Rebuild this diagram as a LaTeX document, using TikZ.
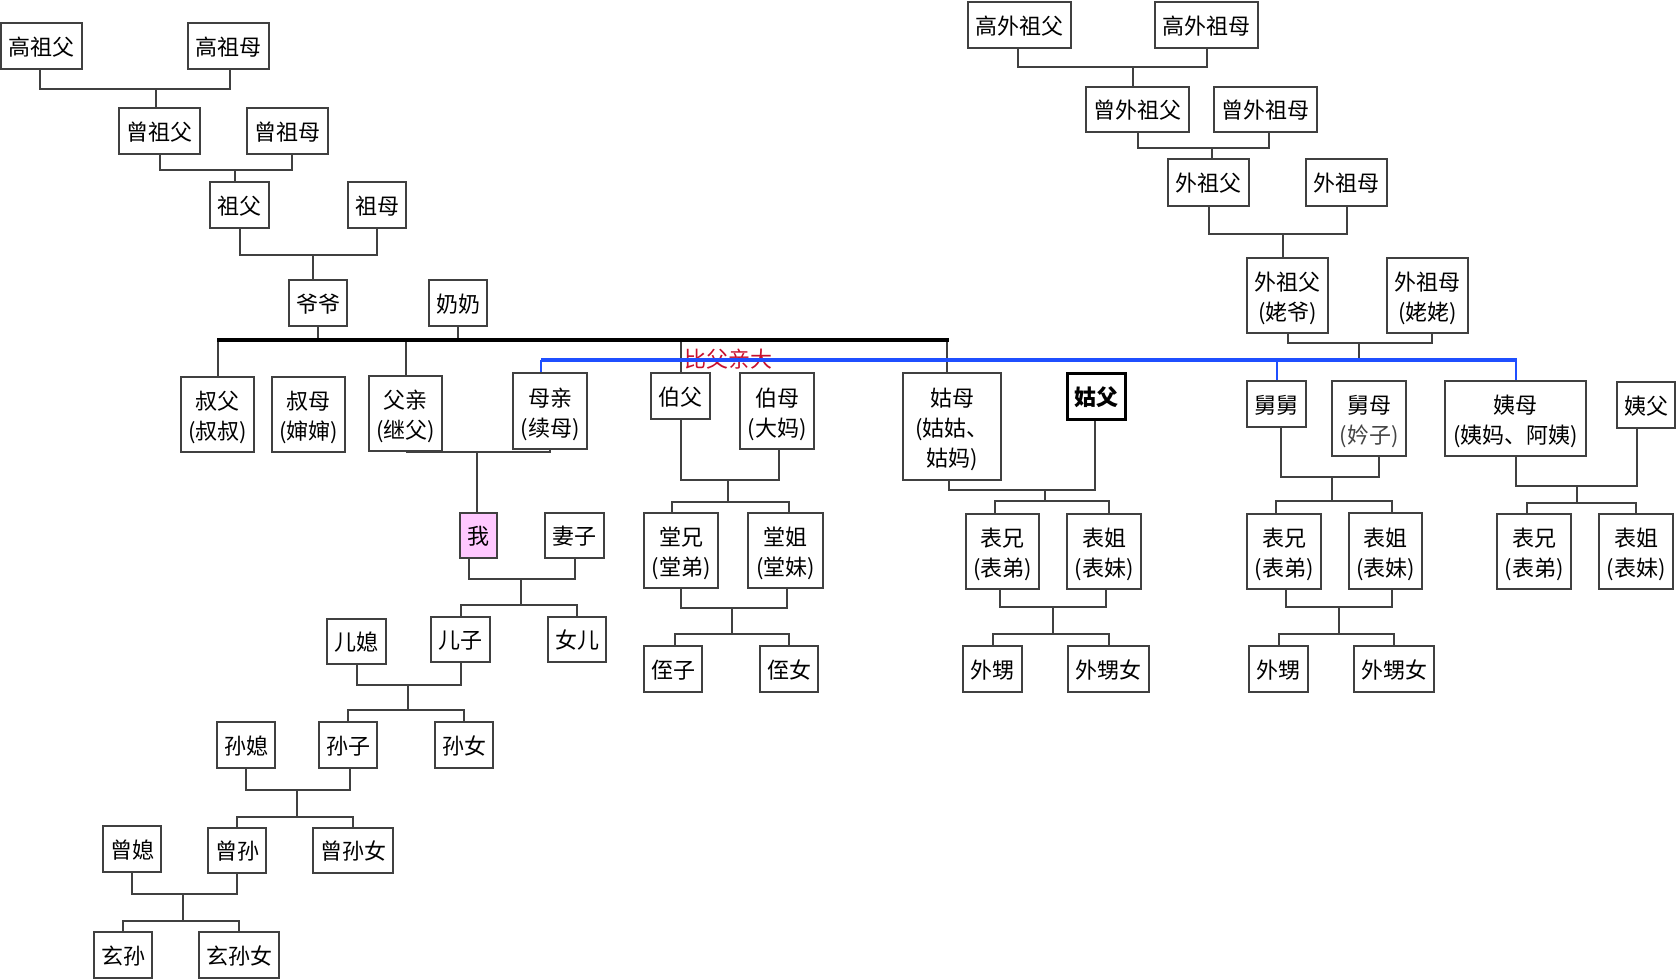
\documentclass[tikz,border=0pt]{standalone}
\usepackage{fontspec}
\newfontfamily\cjk{Noto Sans CJK SC}
\usetikzlibrary{calc}
\definecolor{linec}{HTML}{404040}
\definecolor{bluec}{HTML}{1F4FFF}
\definecolor{redc}{HTML}{C8102E}
\definecolor{pinkc}{HTML}{FFC8FF}
\definecolor{softc}{HTML}{444444}
\newcommand\ds[1]{\raisebox{-1pt}[\height][\depth]{#1}}
\newcommand\dl[1]{\raisebox{-3pt}[\height][\depth]{#1}}
\begin{document}
\begin{tikzpicture}[x=1pt,y=-1pt,
  box/.style={draw=linec, line width=2pt, inner sep=0pt, align=center,
    font=\cjk\fontsize{22}{30}\selectfont, text=black},
  boldbox/.style={box, draw=black, line width=3pt, font=\cjk\bfseries\fontsize{22}{30}\selectfont},
  mebox/.style={box, fill=pinkc},
  bx/.style 2 args={minimum width=#1pt, minimum height=#2pt},
  conn/.style={draw=linec, line width=2pt},
  bconn/.style={draw=bluec, line width=2pt},
  blackbar/.style={draw=black, line width=4pt},
  bluebar/.style={draw=bluec, line width=4pt},
  redlbl/.style={inner sep=0pt, text=redc, font=\cjk\fontsize{22}{26}\selectfont}
]
\useasboundingbox (0,0) rectangle (1676,979);

% ---- paternal ancestors
\node[box,bx={81}{46}] (gzf) at (41.5,46) {\ds{高祖父}};
\node[box,bx={81}{46}] (gzm) at (228.5,46) {\ds{高祖母}};
\node[box,bx={81}{46}] (zzf) at (159.5,131) {\ds{曾祖父}};
\node[box,bx={81}{46}] (zzm) at (287.5,131) {\ds{曾祖母}};
\node[box,bx={59}{46}] (zf) at (239.5,205) {\ds{祖父}};
\node[box,bx={58}{46}] (zm) at (377,205) {\ds{祖母}};
\node[box,bx={58}{46}] (yy) at (318,303) {\ds{爷爷}};
\node[box,bx={58}{46}] (nn) at (458,303) {\ds{奶奶}};

% ---- maternal ancestors
\node[box,bx={103}{46}] (gwzf) at (1019.5,25) {\ds{高外祖父}};
\node[box,bx={103}{46}] (gwzm) at (1206.5,25) {\ds{高外祖母}};
\node[box,bx={103}{45}] (zwzf) at (1137.5,109.5) {\ds{曾外祖父}};
\node[box,bx={103}{45}] (zwzm) at (1265.5,109.5) {\ds{曾外祖母}};
\node[box,bx={81}{47}] (wzf) at (1208.5,182.5) {\ds{外祖父}};
\node[box,bx={81}{47}] (wzm) at (1346.5,182.5) {\ds{外祖母}};
\node[box,bx={81}{75}] (lye) at (1287.5,295.5) {\dl{外祖父}\\\dl{(姥爷)}};
\node[box,bx={81}{75}] (lll) at (1427.5,295.5) {\dl{外祖母}\\\dl{(姥姥)}};

% ---- parents' generation
\node[box,bx={73}{75}] (sf) at (217.5,414.5) {\dl{叔父}\\\dl{(叔叔)}};
\node[box,bx={73}{75}] (sm) at (308.5,414.5) {\dl{叔母}\\\dl{(婶婶)}};
\node[box,bx={73}{75}] (fq) at (405.5,413.5) {\dl{父亲}\\\dl{(继父)}};
\node[box,bx={74}{76}] (mq) at (550,411) {\dl{母亲}\\\dl{(续母)}};
\node[box,bx={59}{46}] (bf) at (680.5,396) {\ds{伯父}};
\node[box,bx={74}{76}] (bm) at (777,411) {\dl{伯母}\\\dl{(大妈)}};
\node[box,bx={98}{107}] (gm) at (952,426.5) {\dl{姑母}\\\dl{(姑姑、}\\\dl{姑妈)}};
\node[boldbox,bx={58}{46}] (gf) at (1096,396) {\ds{姑父}};
\node[box,bx={59}{46}] (jj) at (1276.5,404) {\ds{舅舅}};
\node[box,bx={74}{75}] (jm) at (1369,418.5) {\dl{舅母}\\\dl{\color{softc}(妗子)}};
\node[box,bx={141}{75}] (ym) at (1515.5,418.5) {\dl{姨母}\\\dl{(姨妈、阿姨)}};
\node[box,bx={58}{46}] (yf) at (1646,405) {\ds{姨父}};

% ---- my line
\node[mebox,bx={37}{45}] (me) at (478.5,535.5) {\ds{我}};
\node[box,bx={59}{45}] (qz) at (574.5,535.5) {\ds{妻子}};
\node[box,bx={59}{45}] (ez) at (460.5,639.5) {\ds{儿子}};
\node[box,bx={58}{45}] (ne) at (577,639.5) {\ds{女儿}};
\node[box,bx={59}{45}] (ex) at (356.5,641.5) {\ds{儿媳}};
\node[box,bx={58}{46}] (sx) at (246,745) {\ds{孙媳}};
\node[box,bx={58}{46}] (sz) at (348,745) {\ds{孙子}};
\node[box,bx={58}{46}] (sn) at (464,745) {\ds{孙女}};
\node[box,bx={58}{46}] (zx) at (132,849) {\ds{曾媳}};
\node[box,bx={58}{45}] (zs) at (237,850.5) {\ds{曾孙}};
\node[box,bx={80}{45}] (zsn) at (353,850.5) {\ds{曾孙女}};
\node[box,bx={58}{46}] (xs) at (123,955) {\ds{玄孙}};
\node[box,bx={80}{46}] (xsn) at (239,955) {\ds{玄孙女}};

% ---- cousins
\node[box,bx={74}{75}] (tx) at (681,550.5) {\dl{堂兄}\\\dl{(堂弟)}};
\node[box,bx={75}{75}] (tj) at (785.5,550.5) {\dl{堂姐}\\\dl{(堂妹)}};
\node[box,bx={58}{46}] (zz) at (673,669) {\ds{侄子}};
\node[box,bx={58}{46}] (zn) at (789,669) {\ds{侄女}};
\node[box,bx={73}{75}] (bxa) at (1002.5,551.5) {\dl{表兄}\\\dl{(表弟)}};
\node[box,bx={74}{75}] (bja) at (1104,551.5) {\dl{表姐}\\\dl{(表妹)}};
\node[box,bx={59}{46}] (wsa) at (992.5,669) {\ds{外甥}};
\node[box,bx={81}{46}] (wsna) at (1108.5,669) {\ds{外甥女}};
\node[box,bx={74}{75}] (bxb) at (1284,551.5) {\dl{表兄}\\\dl{(表弟)}};
\node[box,bx={73}{76}] (bjb) at (1385.5,551) {\dl{表姐}\\\dl{(表妹)}};
\node[box,bx={59}{46}] (wsb) at (1278.5,669) {\ds{外甥}};
\node[box,bx={80}{46}] (wsnb) at (1394,669) {\ds{外甥女}};
\node[box,bx={74}{75}] (bxc) at (1534,551.5) {\dl{表兄}\\\dl{(表弟)}};
\node[box,bx={74}{75}] (bjc) at (1636,551.5) {\dl{表姐}\\\dl{(表妹)}};

% ---- label
\node[redlbl] (lbl) at (728,359) {比父亲大};

% ---- paternal connectors
\coordinate (j1) at (156,89);
\draw[conn] ([xshift=-1.5pt]gzf.south) |- (j1) -| ([xshift=1.5pt]gzm.south);
\draw[conn] (j1) -- (j1 |- zzf.north);
\coordinate (j2) at (235,170);
\draw[conn] (zzf.south) |- (j2) -| ([xshift=4.5pt]zzm.south);
\draw[conn] (j2) -- (j2 |- zf.north);
\coordinate (j3) at (313,255);
\draw[conn] (zf.south) |- (j3) -| (zm.south);
\draw[conn] (j3) -- (j3 |- yy.north);

% ---- black bar (father's siblings)
\coordinate (bl) at (217,340);
\coordinate (br) at (949,340);
\coordinate (dgm) at (947,340);
\draw[conn] (yy.south) -- (yy.south |- bl);
\draw[conn] (nn.south) -- (nn.south |- bl);
\draw[conn] (sf.north) -- (sf.north |- bl);
\draw[conn] (fq.north) -- (fq.north |- bl);
\draw[conn] (bf.north) -- (bf.north |- bl);
\draw[conn] (dgm) -- (dgm |- gm.north);
\draw[blackbar] (bl) -- (br);

% ---- maternal connectors
\coordinate (jw1) at (1133,67);
\draw[conn] ([xshift=-1.5pt]gwzf.south) |- (jw1) -| (gwzm.south);
\draw[conn] (jw1) -- (jw1 |- zwzf.north);
\coordinate (jw2) at (1212,148);
\draw[conn] (zwzf.south) |- (jw2) -| ([xshift=3.5pt]zwzm.south);
\draw[conn] (jw2) -- (jw2 |- wzf.north);
\coordinate (jw3) at (1283,234);
\draw[conn] (wzf.south) |- (jw3) -| (wzm.south);
\draw[conn] (jw3) -- (jw3 |- lye.north);

% ---- blue bar (mother's siblings)
\coordinate (bbl) at (541,360);
\coordinate (bbr) at (1517,360);
\coordinate (jw4) at (1359,343);
\draw[conn] (lye.south) |- (jw4) -| ([xshift=4.5pt]lll.south);
\draw[conn] (jw4) -- (jw4 |- bbl);
\draw[bconn] (bbl) -- (bbl |- mq.north);
\draw[bconn] (jj.north) -- (jj.north |- bbl);
\draw[bconn] (ym.north) -- (ym.north |- bbl);
\draw[bluebar] (bbl) -- (bbr);

% ---- my family
\coordinate (jm1) at (477,452);
\draw[conn] (fq.south) |- (jm1) -| (mq.south);
\draw[conn] (jm1) -- (jm1 |- me.north);
\coordinate (jm2) at (521,579);
\coordinate (km2) at (521,605);
\draw[conn] ([xshift=-9.5pt]me.south) |- (jm2) -| (qz.south);
\draw[conn] (jm2) -- (km2);
\draw[conn] (ez.north) |- (km2) -| (ne.north);
\coordinate (jm3) at (408,685);
\coordinate (km3) at (408,710);
\draw[conn] (ex.south) |- (jm3) -| (ez.south);
\draw[conn] (jm3) -- (km3);
\draw[conn] (sz.north) |- (km3) -| (sn.north);
\coordinate (jm4) at (297,790);
\coordinate (km4) at (297,817);
\draw[conn] (sx.south) |- (jm4) -| ([xshift=2pt]sz.south);
\draw[conn] (jm4) -- (km4);
\draw[conn] (zs.north) |- (km4) -| (zsn.north);
\coordinate (jm5) at (183,894);
\coordinate (km5) at (183,921);
\draw[conn] (zx.south) |- (jm5) -| (zs.south);
\draw[conn] (jm5) -- (km5);
\draw[conn] (xs.north) |- (km5) -| (xsn.north);

% ---- uncle bofu
\coordinate (jb1) at (728,480);
\coordinate (kb1) at (728,502);
\draw[conn] (bf.south) |- (jb1) -| ([xshift=2pt]bm.south);
\draw[conn] (jb1) -- (kb1);
\draw[conn] ([xshift=-9pt]tx.north) |- (kb1) -| ([xshift=3pt]tj.north);
\coordinate (jb2) at (732,608);
\coordinate (kb2) at (732,634);
\draw[conn] (tx.south) |- (jb2) -| ([xshift=1.5pt]tj.south);
\draw[conn] (jb2) -- (kb2);
\draw[conn] ([xshift=2pt]zz.north) |- (kb2) -| (zn.north);

% ---- aunt gumu
\coordinate (jg1) at (1045,490);
\coordinate (kg1) at (1045,501);
\draw[conn] ([xshift=-3pt]gm.south) |- (jg1) -| ([xshift=-1pt]gf.south);
\draw[conn] (jg1) -- (kg1);
\draw[conn] ([xshift=-7.5pt]bxa.north) |- (kg1) -| ([xshift=5pt]bja.north);
\coordinate (jg2) at (1053,607);
\coordinate (kg2) at (1053,634);
\draw[conn] ([xshift=-2.5pt]bxa.south) |- (jg2) -| ([xshift=2pt]bja.south);
\draw[conn] (jg2) -- (kg2);
\draw[conn] (wsa.north) |- (kg2) -| (wsna.north);

% ---- uncle jiujiu
\coordinate (jj1) at (1332,477);
\coordinate (kj1) at (1332,501);
\draw[conn] ([xshift=4.5pt]jj.south) |- (jj1) -| ([xshift=10pt]jm.south);
\draw[conn] (jj1) -- (kj1);
\draw[conn] ([xshift=-8pt]bxb.north) |- (kj1) -| ([xshift=6.5pt]bjb.north);
\coordinate (jj2) at (1339,607);
\coordinate (kj2) at (1339,634);
\draw[conn] ([xshift=2pt]bxb.south) |- (jj2) -| ([xshift=6.5pt]bjb.south);
\draw[conn] (jj2) -- (kj2);
\draw[conn] (wsb.north) |- (kj2) -| (wsnb.north);

% ---- aunt yimu
\coordinate (jy1) at (1577,486);
\coordinate (ky1) at (1577,503);
\draw[conn] (ym.south) |- (jy1) -| ([xshift=-9pt]yf.south);
\draw[conn] (jy1) -- (ky1);
\draw[conn] ([xshift=-7pt]bxc.north) |- (ky1) -| (bjc.north);
\end{tikzpicture}
\end{document}
